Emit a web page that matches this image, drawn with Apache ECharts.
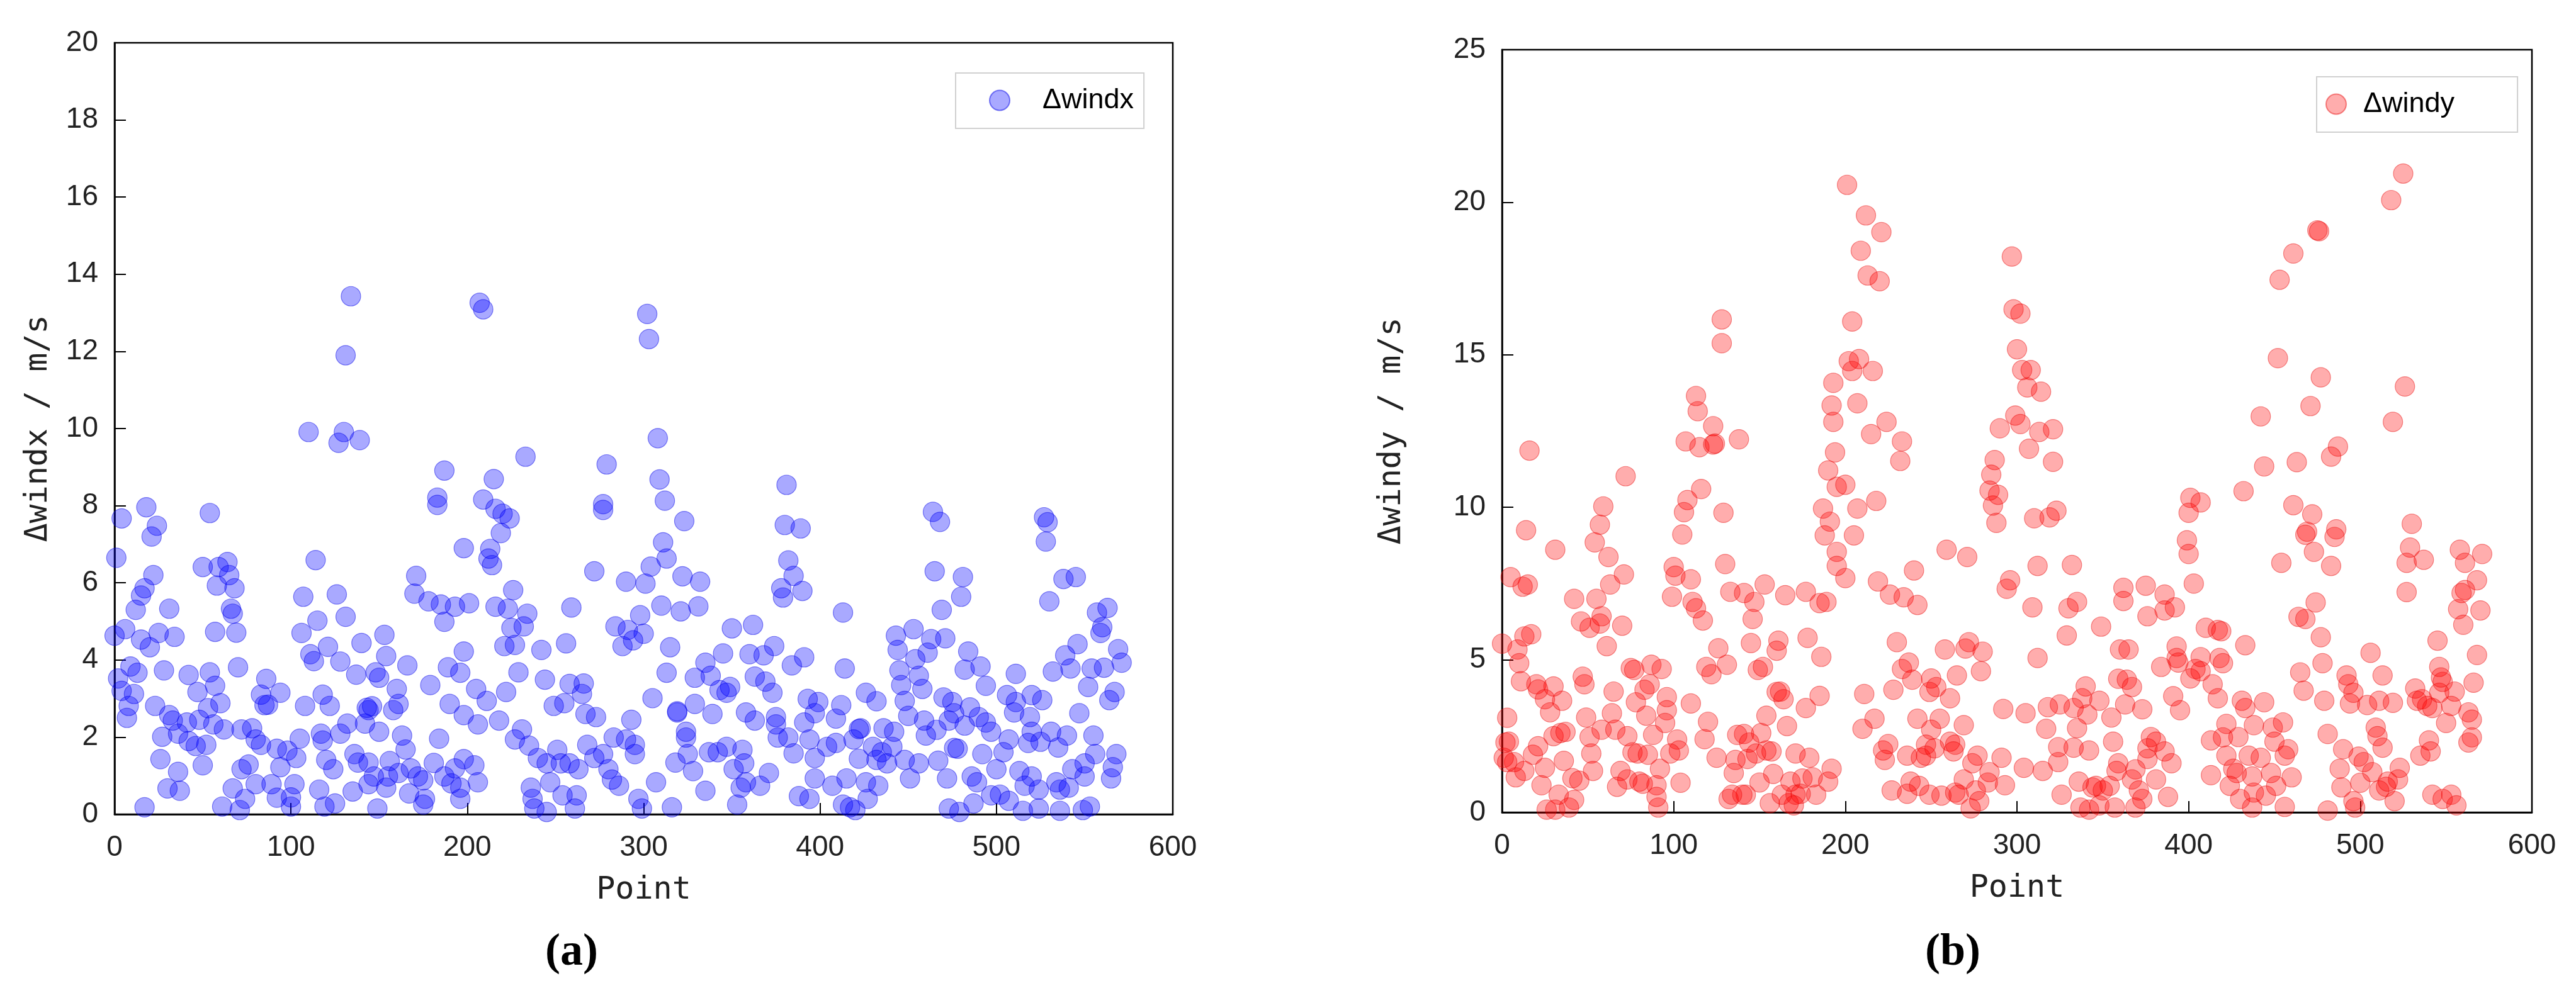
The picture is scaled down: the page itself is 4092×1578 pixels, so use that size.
<!DOCTYPE html>
<html>
<head>
<meta charset="utf-8">
<script src="https://cdn.jsdelivr.net/npm/echarts@6/dist/echarts.min.js"></script>
<style>
html,body{margin:0;padding:0;background:#fff;}
#chart{width:4092px;height:1578px;}
</style>
</head>
<body>
<div id="chart"></div>
<script>
// ---------- data ----------
const xTicks = [0, 100, 200, 300, 400, 500, 600];
const yTicksA = [0, 2, 4, 6, 8, 10, 12, 14, 16, 18, 20];
const yTicksB = [0, 5, 10, 15, 20, 25];
const seriesNameA = 'Δwindx';
const seriesNameB = 'Δwindy';

// [Point, Δwindx]
const windxPoints = [
[134,13.43],[131,11.9],[110,9.91],[130,9.91],[127,9.63],[139,9.7],[187,8.91],[183,8.21],[183,8.02],[4,7.67],[18,7.96],[54,7.81],[24,7.48],[21,7.2],[1,6.65],[114,6.59],[198,6.9],[50,6.41],[64,6.54],[59,6.41],[65,6.2],[22,6.2],[58,5.93],[68,5.86],[17,5.86],[15,5.67],[12,5.3],[31,5.33],[171,6.18],[170,5.72],[178,5.52],[185,5.44],[193,5.38],[187,4.99],[107,5.64],[126,5.7],[131,5.12],[115,5.02],[106,4.7],[66,5.33],[67,5.2],[6,4.8],[0,4.63],[15,4.53],[20,4.33],[25,4.7],[34,4.6],[57,4.73],[69,4.71],[140,4.44],[153,4.65],[121,4.34],[111,4.15],[113,3.97],[128,3.96],[154,4.1],[166,3.86],[137,3.62],[148,3.68],[150,3.54],[189,3.81],[196,3.67],[198,4.22],[179,3.35],[9,3.83],[13,3.67],[2,3.52],[28,3.73],[42,3.61],[54,3.68],[70,3.81],[86,3.51],[4,3.2],[11,3.12],[47,3.17],[57,3.33],[83,3.1],[94,3.15],[85,2.83],[87,2.84],[160,3.25],[108,2.81],[118,3.1],[122,2.81],[144,2.7],[146,2.8],[158,2.7],[161,2.86],[190,2.86],[198,2.57],[8,2.81],[7,2.5],[23,2.81],[31,2.57],[33,2.43],[41,2.38],[48,2.45],[53,2.75],[60,2.88],[56,2.33],[62,2.2],[27,2.01],[36,2.09],[42,1.9],[46,1.77],[52,1.8],[72,2.2],[78,2.23],[80,1.94],[83,1.8],[92,1.7],[98,1.65],[105,1.96],[103,1.46],[117,2.09],[118,1.91],[128,2.09],[132,2.35],[142,2.35],[150,2.14],[143,2.76],[163,2.04],[165,1.68],[184,1.96],[136,1.56],[138,1.34],[144,1.34],[147,0.98],[120,1.41],[124,1.17],[156,1.38],[155,0.98],[168,1.19],[172,0.98],[181,1.33],[187,0.98],[193,1.19],[191,0.8],[198,1.43],[26,1.43],[36,1.1],[30,0.67],[37,0.61],[50,1.27],[17,0.18],[72,1.17],[76,1.29],[67,0.67],[61,0.2],[71,0.11],[74,0.4],[80,0.78],[89,0.78],[94,1.22],[92,0.43],[100,0.44],[102,0.78],[100,0.2],[116,0.64],[119,0.2],[125,0.28],[135,0.59],[144,0.78],[149,0.15],[154,0.69],[167,0.54],[175,0.25],[176,0.4],[196,0.4],[196,0.69],[161,1.07],[175,0.88],
[207,13.26],[209,13.09],[302,12.97],[303,12.32],[308,9.75],[233,9.27],[279,9.07],[215,8.69],[309,8.68],[381,8.54],[277,8.04],[277,7.89],[312,8.13],[209,8.16],[216,7.92],[220,7.79],[224,7.67],[323,7.6],[219,7.29],[380,7.5],[389,7.41],[311,7.05],[313,6.63],[213,6.88],[212,6.63],[214,6.46],[304,6.42],[382,6.58],[272,6.3],[290,6.03],[301,5.98],[322,6.17],[332,6.03],[385,6.18],[378,5.86],[379,5.62],[390,5.79],[226,5.81],[216,5.38],[223,5.33],[234,5.2],[201,5.47],[259,5.36],[310,5.41],[321,5.26],[331,5.39],[298,5.16],[225,4.83],[232,4.87],[284,4.87],[291,4.78],[300,4.68],[288,4.36],[294,4.51],[350,4.82],[362,4.91],[221,4.36],[227,4.39],[242,4.26],[256,4.43],[315,4.33],[345,4.17],[374,4.36],[391,4.07],[360,4.15],[368,4.12],[384,3.86],[335,3.93],[338,3.59],[329,3.54],[313,3.67],[229,3.68],[244,3.49],[258,3.38],[266,3.39],[205,3.25],[211,2.94],[222,3.17],[265,3.12],[249,2.81],[255,2.88],[343,3.22],[349,3.3],[347,3.15],[363,3.57],[369,3.44],[373,3.15],[305,3.01],[329,2.86],[319,2.64],[339,2.6],[358,2.64],[363,2.43],[375,2.52],[375,2.33],[393,2.99],[399,2.91],[391,2.38],[397,2.62],[206,2.33],[218,2.43],[267,2.6],[273,2.52],[293,2.45],[319,2.67],[231,2.2],[227,1.94],[235,1.78],[324,2.14],[324,1.99],[382,1.99],[394,1.94],[376,1.99],[283,1.99],[290,1.94],[295,1.8],[268,1.8],[240,1.46],[251,1.67],[253,1.32],[245,1.32],[263,1.17],[272,1.46],[280,1.17],[295,1.56],[318,1.34],[325,1.56],[328,1.12],[337,1.61],[342,1.61],[347,1.75],[356,1.67],[351,1.17],[357,1.32],[358,0.83],[366,0.74],[371,1.07],[385,1.58],[397,1.46],[397,0.93],[388,0.47],[394,0.4],[206,0.83],[204,1.27],[236,0.69],[237,0.4],[238,0.15],[245,0.06],[247,0.83],[254,0.49],[262,0.49],[261,0.15],[286,0.74],[282,0.9],[297,0.4],[299,0.15],[307,0.83],[316,0.18],[335,0.61],[353,0.25],[355,0.69],[277,1.56],[258,1.32],
[464,7.84],[468,7.58],[527,7.7],[529,7.57],[528,7.07],[465,6.3],[481,6.15],[480,5.64],[538,6.1],[545,6.15],[530,5.52],[413,5.23],[469,5.3],[557,5.23],[563,5.35],[560,4.85],[559,4.7],[443,4.63],[453,4.8],[463,4.54],[471,4.56],[444,4.26],[461,4.19],[546,4.41],[569,4.28],[571,3.93],[539,4.12],[484,4.22],[454,4.02],[414,3.78],[445,3.73],[456,3.59],[482,3.75],[491,3.83],[511,3.64],[532,3.7],[542,3.78],[554,3.78],[561,3.8],[446,3.35],[458,3.25],[494,3.33],[552,3.3],[426,3.15],[432,2.93],[412,2.83],[448,2.94],[470,3.03],[475,2.91],[506,3.09],[511,2.91],[520,3.09],[526,2.96],[567,3.17],[564,2.96],[547,2.62],[510,2.64],[519,2.52],[485,2.77],[476,2.62],[473,2.43],[409,2.48],[450,2.55],[459,2.43],[490,2.52],[494,2.38],[482,2.3],[436,2.23],[442,2.14],[423,2.23],[466,2.19],[460,2.04],[497,2.14],[507,1.94],[520,2.14],[531,2.14],[540,2.04],[555,2.04],[525,1.88],[535,1.73],[404,1.75],[409,1.85],[419,1.94],[422,2.21],[430,1.75],[435,1.61],[441,1.75],[422,1.44],[432,1.41],[438,1.32],[448,1.41],[456,1.32],[467,1.39],[476,1.72],[478,1.7],[492,1.56],[504,1.61],[500,1.17],[518,1.85],[556,1.56],[568,1.56],[566,1.22],[565,0.93],[550,1.32],[543,1.17],[550,0.98],[513,1.12],[520,0.98],[516,0.74],[534,0.83],[536,0.64],[541,0.69],[524,0.64],[486,0.98],[489,0.83],[472,0.93],[451,0.93],[415,0.93],[407,0.74],[426,0.83],[433,0.74],[427,0.4],[417,0.18],[420,0.11],[413,0.25],[473,0.15],[479,0.06],[487,0.28],[497,0.49],[502,0.51],[507,0.35],[515,0.09],[524,0.15],[536,0.09],[549,0.11],[553,0.2]
];

// [Point, Δwindy]
const windyPoints = [
[128,16.16],[128,15.38],[193,14.08],[192,13.34],[193,12.8],[194,11.8],[190,11.21],[195,10.67],[113,13.65],[114,13.15],[123,12.66],[107,12.16],[115,11.97],[123,12.06],[124,12.09],[138,12.23],[16,11.86],[72,11.02],[116,10.6],[108,10.24],[106,9.84],[129,9.82],[59,10.03],[57,9.43],[54,8.85],[62,8.37],[14,9.25],[31,8.61],[105,9.11],[187,9.96],[191,9.53],[188,9.08],[195,8.54],[195,8.08],[130,8.14],[5,7.71],[12,7.4],[15,7.47],[71,7.8],[63,7.47],[100,8.04],[101,7.76],[110,7.64],[42,7.0],[55,7.0],[99,7.07],[111,6.9],[113,6.69],[117,6.29],[133,7.23],[141,7.19],[147,6.9],[153,7.47],[146,6.34],[165,7.12],[177,7.23],[185,6.86],[189,6.9],[46,6.26],[51,6.05],[58,6.43],[57,6.19],[70,6.12],[61,5.45],[0,5.53],[9,5.34],[13,5.77],[17,5.84],[10,4.89],[11,4.3],[126,5.38],[145,5.55],[161,5.63],[160,5.3],[178,5.72],[186,5.1],[119,4.77],[122,4.53],[131,4.84],[149,4.67],[152,4.77],[75,4.73],[77,4.67],[87,4.84],[93,4.7],[47,4.45],[48,4.2],[20,4.2],[21,4.03],[30,4.13],[25,3.71],[28,3.28],[35,3.66],[65,3.96],[86,4.2],[83,4.02],[78,3.61],[96,3.78],[96,3.35],[110,3.57],[160,3.95],[162,3.96],[164,3.71],[185,3.82],[177,3.42],[154,3.17],[166,2.83],[120,2.97],[118,2.4],[3,3.1],[2,2.29],[4,2.32],[1,1.79],[7,1.65],[8,1.15],[18,1.89],[21,2.17],[25,1.46],[23,0.89],[30,2.5],[34,2.6],[37,2.64],[36,1.69],[41,1.12],[45,1.04],[33,0.58],[42,0.41],[39,0.16],[26,0.09],[31,0.09],[49,3.11],[51,2.47],[52,1.93],[53,1.36],[58,2.71],[64,3.25],[66,2.71],[73,2.5],[76,1.97],[79,1.93],[84,3.17],[85,1.89],[88,2.54],[95,2.93],[102,2.39],[103,2.03],[98,1.93],[69,1.36],[73,1.08],[67,0.84],[80,1.01],[82,0.94],[90,0.89],[92,1.43],[90,0.51],[91,0.16],[104,0.97],[125,1.79],[136,1.72],[141,2.57],[137,2.54],[143,1.75],[144,2.29],[151,2.6],[154,2.03],[157,2.0],[148,1.93],[135,1.29],[150,0.98],[158,1.26],[171,1.93],[179,1.79],[168,1.01],[175,1.11],[181,1.15],[183,0.58],[174,0.61],[171,0.58],[167,0.3],[156,0.3],[170,0.23],[132,0.44],[142,0.58],[140,0.58],[190,1.01],[192,1.43],[134,0.58],[3,1.65],[13,1.36],[163,0.58],
[201,20.57],[212,19.57],[221,19.02],[209,18.41],[213,17.6],[220,17.41],[297,18.22],[298,16.49],[302,16.35],[300,15.18],[303,14.5],[308,14.5],[306,13.93],[314,13.79],[204,16.09],[202,14.79],[208,14.86],[204,14.47],[216,14.47],[207,13.41],[224,12.8],[215,12.4],[233,12.16],[232,11.52],[200,10.74],[207,9.96],[218,10.21],[205,9.08],[200,7.68],[299,13.01],[302,12.73],[290,12.59],[313,12.47],[321,12.56],[307,11.92],[321,11.49],[287,11.55],[285,11.07],[284,10.55],[289,10.41],[286,10.06],[288,9.49],[310,9.64],[319,9.67],[323,9.89],[259,8.61],[271,8.37],[240,7.93],[219,7.57],[226,7.14],[234,7.05],[242,6.8],[312,8.08],[332,8.11],[296,7.61],[294,7.33],[309,6.72],[330,6.69],[335,6.9],[329,5.8],[349,6.09],[362,7.36],[362,6.93],[375,7.43],[376,6.43],[386,7.14],[386,6.62],[392,6.72],[230,5.58],[237,4.91],[233,4.7],[239,4.35],[228,4.02],[211,3.88],[217,3.07],[210,2.74],[250,4.39],[253,4.11],[249,3.95],[261,3.74],[258,5.34],[265,4.49],[270,5.37],[272,5.58],[280,5.27],[279,4.63],[312,5.06],[360,5.34],[365,5.34],[359,4.38],[364,4.35],[367,4.11],[384,4.77],[393,5.44],[393,5.06],[394,4.91],[391,3.81],[395,3.35],[340,4.13],[348,3.66],[338,3.74],[341,3.21],[333,3.42],[325,3.54],[318,3.45],[305,3.25],[292,3.39],[355,3.11],[363,3.54],[373,3.38],[317,2.74],[335,2.76],[356,2.32],[324,2.14],[333,2.12],[342,2.03],[378,2.47],[381,2.32],[376,2.1],[386,2.0],[376,1.75],[390,1.61],[324,1.65],[359,1.61],[369,1.41],[315,1.36],[304,1.46],[291,1.79],[277,1.86],[274,1.61],[284,1.32],[283,0.98],[293,0.89],[269,2.86],[255,3.07],[250,2.71],[242,3.07],[222,2.03],[225,2.24],[223,1.72],[236,1.86],[244,1.79],[247,1.86],[247,2.22],[252,2.1],[261,2.32],[264,2.22],[263,2.0],[227,0.72],[238,1.01],[243,0.87],[236,0.61],[249,0.58],[256,0.55],[264,0.65],[269,1.08],[266,0.58],[276,0.72],[278,0.37],[273,0.13],[326,0.58],[336,1.01],[344,0.82],[346,0.87],[350,0.72],[354,0.87],[337,0.16],[342,0.09],[348,0.23],[357,0.16],[367,1.08],[371,0.72],[373,0.44],[369,0.16],[381,1.08],[388,0.51],[358,1.36],
[525,20.94],[518,20.07],[475,19.08],[476,19.05],[461,18.32],[453,17.46],[452,14.89],[477,14.26],[471,13.32],[526,13.96],[519,12.8],[442,12.98],[487,11.99],[483,11.66],[463,11.48],[444,11.34],[432,10.53],[461,10.07],[472,9.77],[469,9.2],[468,9.1],[473,8.54],[486,9.28],[485,9.03],[483,8.08],[454,8.18],[401,10.31],[407,10.16],[400,9.82],[399,8.92],[400,8.47],[403,7.5],[530,9.46],[529,8.68],[527,8.18],[537,8.28],[558,8.61],[561,8.18],[571,8.47],[568,7.61],[561,7.29],[559,7.19],[557,6.66],[570,6.62],[560,6.15],[527,7.22],[410,6.05],[417,5.98],[419,5.94],[433,5.48],[474,6.88],[464,6.41],[468,6.34],[477,5.74],[545,5.63],[568,5.16],[546,4.77],[566,4.25],[506,5.23],[513,4.49],[407,5.09],[418,5.06],[420,4.89],[404,4.7],[401,4.39],[407,4.63],[414,4.2],[417,3.74],[465,4.59],[467,3.99],[478,4.89],[479,3.66],[492,4.49],[493,4.2],[496,3.92],[494,3.57],[504,3.52],[511,3.66],[519,3.59],[532,4.06],[533,3.66],[539,3.49],[542,3.42],[548,4.28],[555,3.96],[553,3.49],[563,3.28],[565,3.04],[550,2.93],[546,3.92],[547,4.42],[536,3.71],[431,3.66],[433,3.42],[444,3.61],[422,2.9],[413,2.36],[420,2.46],[429,2.47],[438,2.86],[449,2.78],[455,2.95],[450,2.32],[422,1.86],[435,1.86],[442,1.79],[458,2.07],[456,1.86],[413,1.22],[426,1.43],[428,1.29],[437,1.18],[448,1.29],[460,1.15],[424,0.87],[430,0.44],[438,0.65],[445,0.55],[451,0.87],[437,0.16],[456,0.18],[481,0.06],[481,2.57],[490,2.07],[488,1.43],[489,0.82],[499,1.83],[502,1.65],[500,0.97],[507,1.32],[496,0.37],[497,0.16],[509,2.78],[510,2.5],[513,2.12],[515,0.84],[520,0.37],[523,1.46],[522,1.08],[535,1.86],[540,2.36],[541,2.0],[563,2.29],[565,2.46],[542,0.58],[548,0.44],[553,0.58],[556,0.23],[511,0.72],[516,1.01]
];

// ---------- chart ----------
const chart = echarts.init(document.getElementById('chart'), null, {renderer: 'canvas'});

const tickFont = {fontFamily: 'Liberation Sans, Arial, sans-serif', fontSize: 46, color: '#222'};
const titleFont = {fontFamily: 'DejaVu Sans Mono, monospace', fontSize: 50, color: '#222'};

function xAxisFor(gi) {
  return {
    gridIndex: gi, type: 'value',
    min: xTicks[0], max: xTicks[xTicks.length - 1], interval: xTicks[1] - xTicks[0],
    name: 'Point', nameLocation: 'middle', nameGap: 96, nameTextStyle: titleFont,
    axisLine: {show: true, onZero: false, lineStyle: {color: '#000', width: 2.5}},
    axisTick: {show: true, inside: true, length: 18, lineStyle: {color: '#000', width: 2}},
    axisLabel: Object.assign({margin: 30}, tickFont),
    splitLine: {show: false}
  };
}
function yAxisFor(gi, ticks, name, gap) {
  return {
    gridIndex: gi, type: 'value',
    min: ticks[0], max: ticks[ticks.length - 1], interval: ticks[1] - ticks[0],
    name: name, nameLocation: 'middle', nameRotate: 90, nameGap: gap, nameTextStyle: titleFont,
    axisLine: {show: true, onZero: false, lineStyle: {color: '#000', width: 2.5}},
    axisTick: {show: true, inside: true, length: 18, lineStyle: {color: '#000', width: 2}},
    axisLabel: Object.assign({margin: 26}, tickFont),
    splitLine: {show: false}
  };
}

function legendFor(name, left, top, pad, textPadLeft) {
  return {
    data: [name], left: left, top: top, orient: 'vertical', icon: 'circle',
    itemWidth: 32, itemHeight: 32, padding: pad,
    borderColor: '#d0d0d0', borderWidth: 2, backgroundColor: '#fff', selectedMode: false,
    textStyle: {fontFamily: 'Liberation Sans, Arial, sans-serif', fontSize: 45, color: '#000',
                padding: [0, 0, 0, textPadLeft], lineHeight: 32}
  };
}

const option = {
  backgroundColor: '#fff',
  animation: false,
  grid: [
    {left: 182, top: 68, width: 1681, height: 1226, show: true, borderColor: '#000', borderWidth: 2.5, backgroundColor: 'transparent'},
    {left: 2386, top: 79, width: 1636, height: 1212, show: true, borderColor: '#000', borderWidth: 2.5, backgroundColor: 'transparent'}
  ],
  xAxis: [xAxisFor(0), xAxisFor(1)],
  yAxis: [yAxisFor(0, yTicksA, 'Δwindx / m/s', 96), yAxisFor(1, yTicksB, 'Δwindy / m/s', 150)],
  legend: [
    legendFor(seriesNameA, 1518, 116, [21, 16, 22, 53], 47),
    legendFor(seriesNameB, 3680, 122, [21, 100, 22, 14], 22)
  ],
  series: [
    {name: seriesNameA, type: 'scatter', xAxisIndex: 0, yAxisIndex: 0, data: windxPoints, symbol: 'circle', symbolSize: 31, clip: false,
     itemStyle: {color: 'rgba(0,0,255,0.42)', borderColor: 'rgba(0,0,230,0.6)', borderWidth: 1.2}},
    {name: seriesNameB, type: 'scatter', xAxisIndex: 1, yAxisIndex: 1, data: windyPoints, symbol: 'circle', symbolSize: 31, clip: false,
     itemStyle: {color: 'rgba(255,0,0,0.4)', borderColor: 'rgba(230,0,0,0.55)', borderWidth: 1.2}}
  ],
  graphic: [
    {type: 'text', left: 908 - 42, top: 1478, style: {text: '(a)', font: 'bold 72px "Liberation Serif", "Times New Roman", serif', fill: '#000'}},
    {type: 'text', left: 3100 - 42, top: 1478, style: {text: '(b)', font: 'bold 72px "Liberation Serif", "Times New Roman", serif', fill: '#000'}}
  ]
};
chart.setOption(option);
</script>
</body>
</html>
